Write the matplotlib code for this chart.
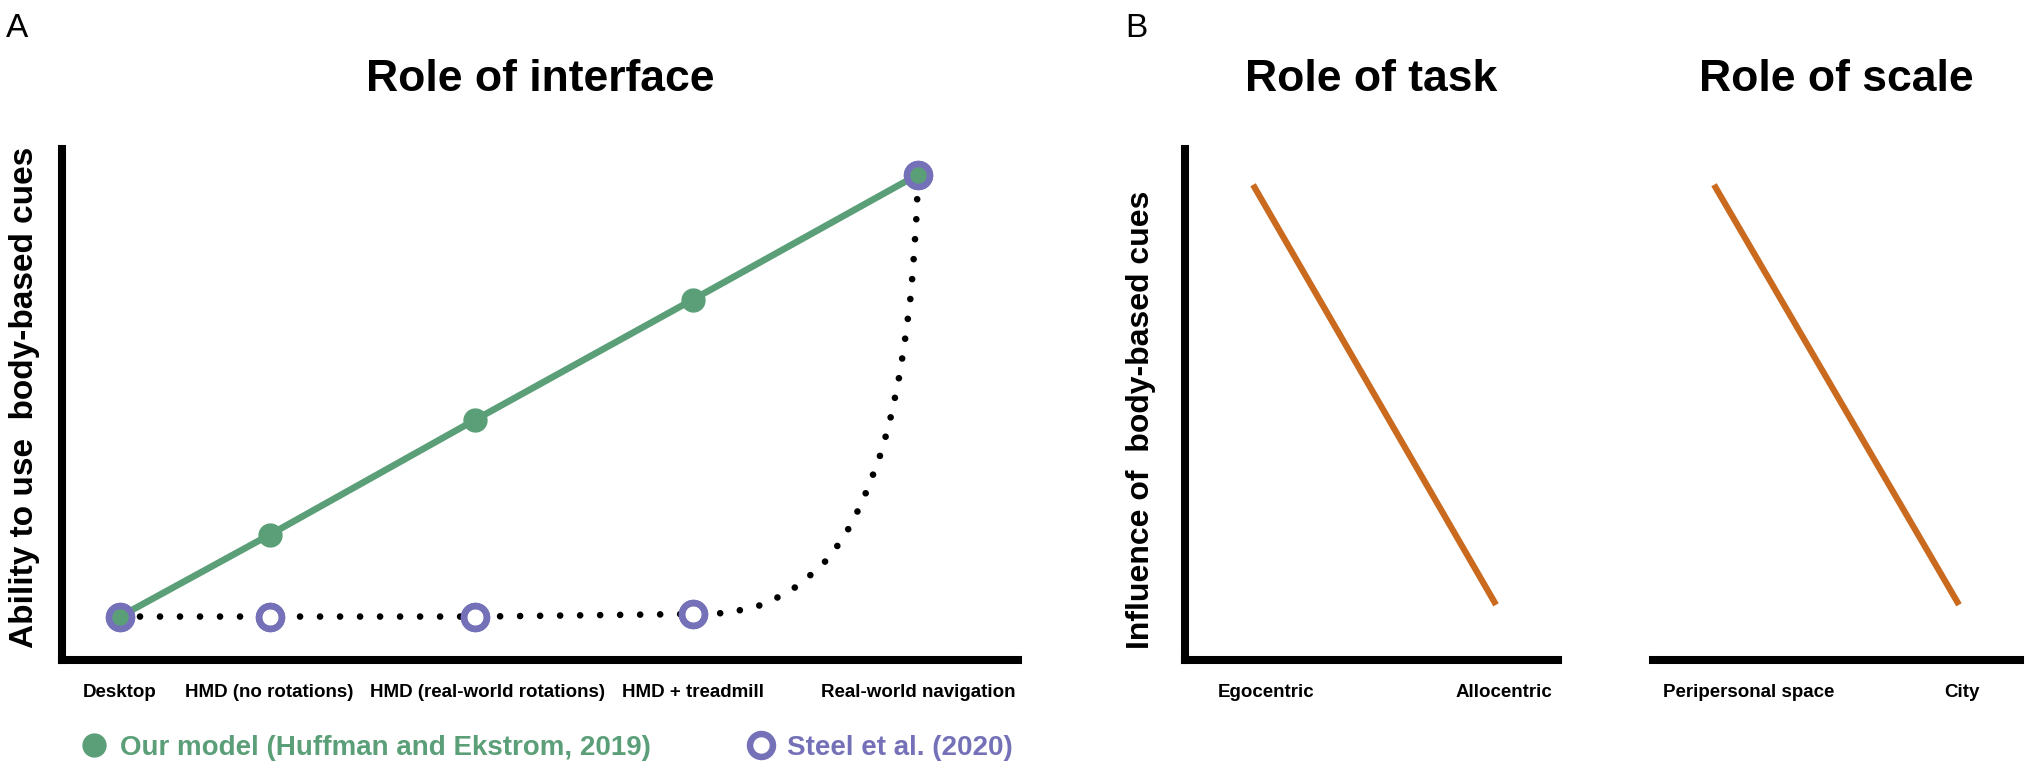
import matplotlib.pyplot as plt
from matplotlib.lines import Line2D

plt.rcParams['font.family'] = ['Liberation Sans', 'DejaVu Sans']

# panel A: role of interface
interfaces = ['Desktop', 'HMD (no rotations)', 'HMD (real-world rotations)',
              'HMD + treadmill', 'Real-world navigation']
interface_pos = [0, 0.75, 1.78, 2.87, 4.0]
our_model = [0.085, 0.245, 0.47, 0.705, 0.95]
steel = [0.085, 0.085, 0.085, 0.09, 0.95]

# dotted trend through the Steel et al. points
steel_curve_x = [0, 0.75, 1.78, 2.87, 3.05, 3.24, 3.41, 3.56, 3.67, 3.75,
                 3.82, 3.87, 3.91, 3.94, 3.965, 3.98, 3.993, 4.0]
steel_curve_y = [0.085, 0.085, 0.085, 0.09, 0.092, 0.11, 0.148, 0.202, 0.268,
                 0.337, 0.411, 0.486, 0.563, 0.641, 0.718, 0.795, 0.873, 0.95]

# panel B: role of task / role of scale
task_labels = ['Egocentric', 'Allocentric']
task_influence = [0.93, 0.108]
scale_labels = ['Peripersonal space', 'City']
scale_influence = [0.93, 0.108]

GREEN = '#5b9f78'
PURPLE = '#7571b8'
ORANGE = '#c96a1f'

W, H = 2029, 770
fig = plt.figure(figsize=(W / 100, H / 100), dpi=100)


def px_axes(left, right, bottom, top):
    return fig.add_axes([left / W, 1 - bottom / H, (right - left) / W, (bottom - top) / H])


def style_axes(ax, left_spine=True):
    for side in ['top', 'right']:
        ax.spines[side].set_visible(False)
    ax.spines['left'].set_visible(left_spine)
    for side in ['left', 'bottom']:
        ax.spines[side].set_linewidth(5.8)
        ax.spines[side].set_capstyle('projecting')
    ax.set_yticks([])
    ax.tick_params(axis='x', length=0, pad=17, labelsize=13.5)
    for lab in ax.get_xticklabels():
        lab.set_fontweight('bold')
    ax.set_ylim(0, 1)


# ---- A ----
axA = px_axes(62, 1018, 660, 149)
axA.plot(steel_curve_x, steel_curve_y, color='black', lw=4.8,
         linestyle=(0, (0.001, 3.0)), dash_capstyle='round', zorder=2)
axA.plot(interface_pos, steel, linestyle='none', marker='o', ms=16.5,
         mfc='white', mec=PURPLE, mew=4.7, zorder=3)
axA.plot(interface_pos, our_model, color=GREEN, lw=4.8, marker='o', ms=16.5,
         mfc=GREEN, mec=GREEN, zorder=4)
axA.plot(interface_pos, steel, linestyle='none', marker='o', ms=16.5,
         mfc='none', mec=PURPLE, mew=4.7, zorder=5)
axA.set_xlim(-0.2907, 4.501)
axA.set_xticks([0, 0.75, 1.84, 2.87, 4.0])
axA.set_xticklabels(interfaces)
style_axes(axA)
axA.set_title('Role of interface', fontsize=32, fontweight='bold', pad=42)
axA.set_ylabel('Ability to use  body-based cues', fontsize=24, fontweight='bold')
axA.yaxis.label.set_va('center')
axA.yaxis.set_label_coords(-0.0397, 0.513)

handles = [Line2D([], [], linestyle='none', marker='o', ms=16.5, mfc=GREEN, mec=GREEN),
           Line2D([], [], linestyle='none', marker='o', ms=16.5, mfc='white', mec=PURPLE, mew=4.7)]
fig.legend(handles, ['Our model (Huffman and Ekstrom, 2019)', 'Steel et al. (2020)'],
           loc='center left', bbox_to_anchor=(80 / W, 1 - 748 / H), ncol=2, frameon=False,
           prop={'weight': 'bold', 'size': 20}, labelcolor=[GREEN, PURPLE],
           handlelength=1.0, handletextpad=0.45, columnspacing=3.45,
           borderpad=0, borderaxespad=0)

# ---- B: task ----
axT = px_axes(1185, 1558, 660, 149)
axT.plot([0, 1], task_influence, color=ORANGE, lw=4.5, solid_capstyle='butt')
axT.set_xlim(-0.280, 1.255)
axT.set_xticks([0.053, 1.033])
axT.set_xticklabels(task_labels)
style_axes(axT)
axT.set_title('Role of task', fontsize=32, fontweight='bold', pad=42)
axT.set_ylabel('Influence of  body-based cues', fontsize=23, fontweight='bold')
axT.yaxis.label.set_va('center')
axT.yaxis.set_label_coords(-0.118, 0.47)

# ---- B: scale ----
axS = px_axes(1653, 2020, 660, 149)
axS.plot([0, 1], scale_influence, color=ORANGE, lw=4.5, solid_capstyle='butt')
axS.set_xlim(-0.249, 1.249)
axS.set_xticks([0.143, 1.012])
axS.set_xticklabels(scale_labels)
style_axes(axS, left_spine=False)
axS.set_title('Role of scale', fontsize=32, fontweight='bold', pad=42)

fig.text(6 / W, 1 - 13 / H, 'A', fontsize=24, ha='left', va='top')
fig.text(1125 / W, 1 - 13 / H, 'B', fontsize=24, ha='left', va='top')

fig.savefig('out.png', dpi=100)
